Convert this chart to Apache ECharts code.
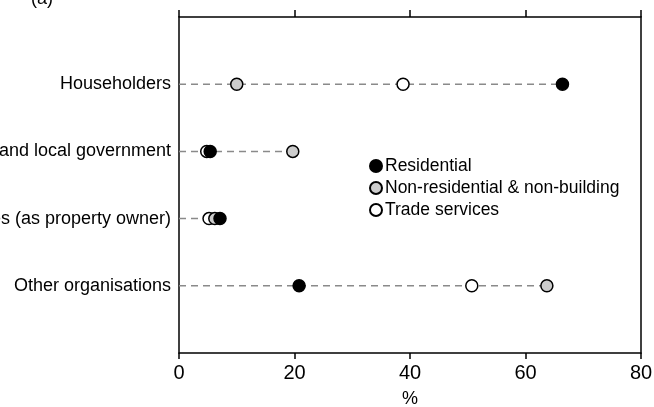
<!DOCTYPE html>
<html><head><meta charset="utf-8">
<script src="https://cdn.jsdelivr.net/npm/echarts@6/dist/echarts.min.js"></script>
<style>html,body{margin:0;padding:0;background:#fff}#c{width:654px;height:407px}</style>
</head><body><div id="c"></div>
<script>
const categories = ["Householders", "State and local government", "Businesses (as property owner)", "Other organisations"];
const residential = [66.4, 5.4, 7.1, 20.8];
const nonResidential = [10.0, 19.7, 6.2, 63.7];
const tradeServices = [38.8, 4.8, 5.2, 50.7];
const xTicks = [0, 20, 40, 60, 80];
const seriesNames = ["Residential", "Non-residential & non-building", "Trade services"];

const FONT = "Liberation Sans";
const chart = echarts.init(document.getElementById('c'));
const pos = categories.map((c, i) => i + 1);
const dashSeries = categories.map((c, i) => ({
  type: 'line', silent: true, symbol: 'none', z: 1,
  data: [[0, pos[i]], [Math.max(residential[i], nonResidential[i], tradeServices[i]), pos[i]]],
  lineStyle: { color: '#8a8a8a', width: 1.5, type: [7, 5] }
}));
const mk = (name, vals, color) => ({
  name, type: 'scatter', symbol: 'circle', symbolSize: 12, z: 3,
  itemStyle: { color, borderColor: '#000', borderWidth: 1.5, opacity: 1 },
  data: vals.map((v, i) => [v, pos[i]])
});
chart.setOption({
  animation: false,
  textStyle: { fontFamily: FONT },
  title: { text: '(a)', left: 26, top: -15, textStyle: { fontFamily: FONT, fontSize: 18, fontWeight: 'normal', color: '#000' } },
  grid: { left: 179, right: 13, top: 17, bottom: 54, containLabel: false, outerBoundsMode: 'none' },
  legend: {
    data: seriesNames, orient: 'vertical', left: 364, top: 151, itemGap: 2,
    itemWidth: 12, itemHeight: 12, icon: 'circle',
    textStyle: { fontFamily: FONT, fontSize: 17.5, lineHeight: 20, color: '#000', padding: [0, 0, 0, -2] }
  },
  xAxis: [{
    type: 'value', min: 0, max: 80, interval: 20, position: 'bottom',
    name: '%', nameLocation: 'middle', nameGap: 37, nameTextStyle: { fontFamily: FONT, fontSize: 18, color: '#000' },
    axisLine: { show: true, onZero: false, lineStyle: { color: '#000', width: 1.5 } },
    axisTick: { show: true, length: 6, lineStyle: { color: '#000', width: 1.5 } },
    axisLabel: { fontFamily: FONT, fontSize: 20, color: '#000', margin: 10 },
    splitLine: { show: false }
  }, {
    type: 'value', min: 0, max: 80, interval: 20, position: 'top',
    axisLine: { show: true, onZero: false, lineStyle: { color: '#000', width: 1.5 } },
    axisTick: { show: true, length: 7, lineStyle: { color: '#000', width: 1.5 } },
    axisLabel: { show: false }, splitLine: { show: false }
  }],
  yAxis: [{
    type: 'value', min: 0, max: 5, interval: 1, inverse: true, position: 'left',
    axisLine: { show: true, onZero: false, lineStyle: { color: '#000', width: 1.5 } },
    axisTick: { show: false },
    axisLabel: { fontFamily: FONT, fontSize: 18, color: '#000', margin: 8,
      formatter: v => (v >= 1 && v <= categories.length) ? categories[v - 1] : '' },
    splitLine: { show: false }
  }, {
    type: 'value', min: 0, max: 5, inverse: true, position: 'right',
    axisLine: { show: true, onZero: false, lineStyle: { color: '#000', width: 1.5 } },
    axisTick: { show: false }, axisLabel: { show: false }, splitLine: { show: false }
  }],
  series: [
    ...dashSeries,
    mk(seriesNames[2], tradeServices, '#ffffff'),
    mk(seriesNames[1], nonResidential, '#cccccc'),
    mk(seriesNames[0], residential, '#000000')
  ]
});
</script></body></html>
